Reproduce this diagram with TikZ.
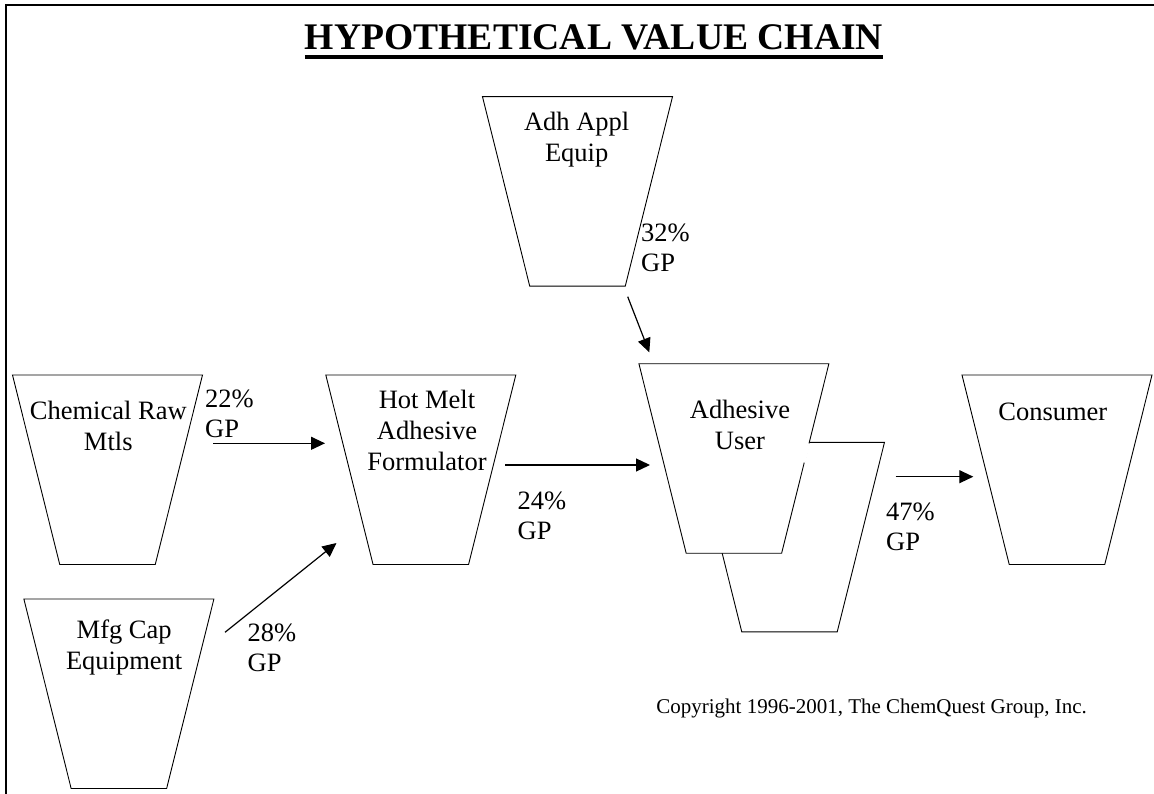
\documentclass[tikz,border=0pt]{standalone}
\usepackage{fontspec}
\setmainfont{Liberation Serif}
\usetikzlibrary{arrows.meta}
% a cup-shaped stage: #1 = centre x, #2 = top y
\newcommand\drawcup[2]{%
  \draw[cup] (#1,#2) ++(-95,0) -- ++(190,0) -- ++(-47.25,189.5) -- ++(-95.5,0) -- cycle;}
\begin{document}
\begin{tikzpicture}[x=1pt,y=-1pt,
  cup/.style={draw=black, line width=0.9pt, fill=white, line join=miter},
  flow/.style={draw=black, line width=1.2pt, -{Triangle[length=14pt,width=13pt]}},
  lbl/.style={font=\fontsize{26.5}{31}\selectfont, align=center, inner sep=0pt, anchor=base},
  gp/.style={font=\fontsize{26.5}{30}\selectfont, align=left, inner sep=0pt, anchor=base west},
  frame/.style={draw=black, line width=2pt}]
\useasboundingbox (0,0) rectangle (1154,794);

% frame (top and left edges)
\draw[frame] (6,794) -- (6,5) -- (1154,5);

% title
\node[font=\fontsize{37.6}{40}\selectfont\bfseries, inner sep=0pt, anchor=base] (title) at (594,49.5) {HYPOTHETICAL VALUE CHAIN};
\draw[line width=3.5pt] ([yshift=-7.5pt]title.base west) -- ([yshift=-7.5pt]title.base east);

% stages
\drawcup{577.5}{96.7}    % adhesive application equipment
\drawcup{107.5}{375}     % chemical raw materials
\drawcup{118.9}{599}     % manufacturing capital equipment
\drawcup{420.8}{375}     % hot melt formulator
\drawcup{789.5}{442.3}   % adhesive user (second cup behind)
\drawcup{733.9}{363.7}   % adhesive user
\drawcup{1057}{375}      % consumer
\draw[white, line width=2.5pt] (809,443.5) -- (804,462.5);

% stage labels (positioned at the baseline of the last line)
\node[lbl] (adhtxt)  at (576.7,162)   {Adh Appl\\Equip};
\node[lbl] (chemtxt) at (108.3,450)   {Chemical Raw\\Mtls};
\node[lbl] (hottxt)  at (427,470.7)   {Hot Melt\\Adhesive\\Formulator};
\node[lbl] (usertxt) at (740,449.5)   {Adhesive\\User};
\node[lbl] (constxt) at (1052.8,420)  {Consumer};
\node[lbl] (mfgtxt)  at (124.2,669.3) {Mfg Cap\\Equipment};

% gross profit labels
\node[gp] (gp22) at (205,437.5)   {22\%\\GP};
\node[gp] (gp32) at (641,271.7)   {32\%\\GP};
\node[gp] (gp24) at (517.5,539.3) {24\%\\GP};
\node[gp] (gp47) at (886,550)     {47\%\\GP};
\node[gp] (gp28) at (247.5,671.7) {28\%\\GP};

% flow arrows
\coordinate (chemout) at (213.3,443.3);
\coordinate (hotin1)  at (325,443.3);
\coordinate (mfgout)  at (225,632.3);
\coordinate (hotin2)  at (336.5,543);
\coordinate (hotout)  at (505,465);
\coordinate (userin1) at (650,465);
\coordinate (adhout)  at (627.7,296.7);
\coordinate (userin2) at (649.3,352.3);
\coordinate (userout) at (895.7,476.7);
\coordinate (consin)  at (973.3,476.7);
\draw[flow] (chemout) -- (hotin1);
\draw[flow] (mfgout) -- (hotin2);
\draw[flow] (hotout) -- (userin1);
\draw[flow] (adhout) -- (userin2);
\draw[flow] (userout) -- (consin);

% copyright line
\node[font=\fontsize{21}{24}\selectfont, inner sep=0pt, anchor=base east] (copy) at (1087,713.3) {Copyright 1996-2001, The ChemQuest Group, Inc.};
\end{tikzpicture}
\end{document}
